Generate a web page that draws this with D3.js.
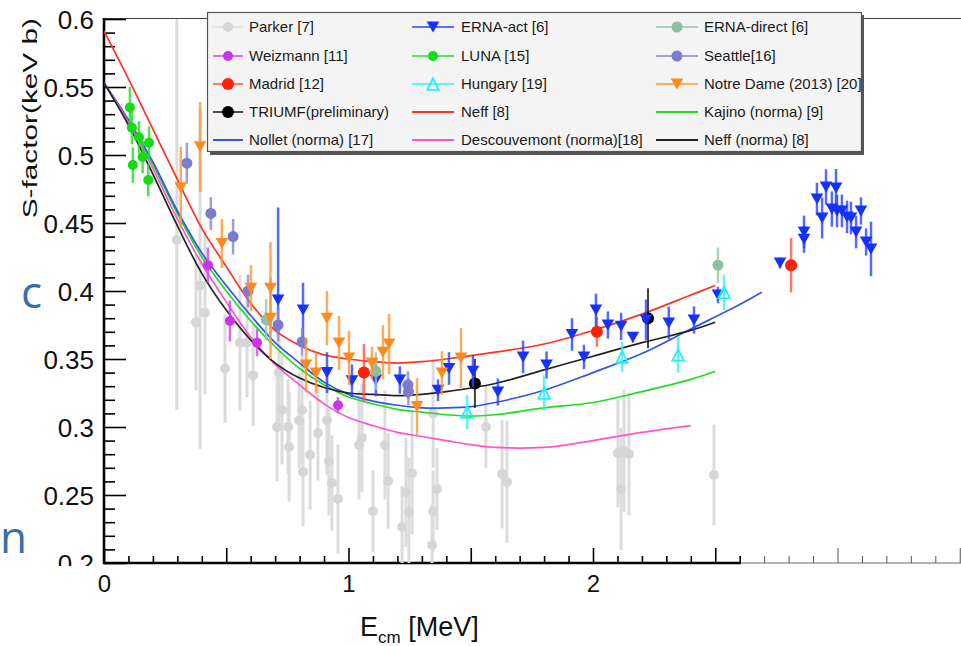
<!DOCTYPE html>
<html>
<head>
<meta charset="utf-8">
<script src="https://cdn.jsdelivr.net/npm/d3@7"></script>
<style>
  body { margin: 0; background: #fff; }
  svg { display: block; font-family: "Liberation Sans", Arial, Helvetica, sans-serif; }
</style>
</head>
<body>
<svg id="chart" width="961" height="646"></svg>
<script>
// ---- Axis tick labels ----
const yTickLabels = ["0.2", "0.25", "0.3", "0.35", "0.4", "0.45", "0.5", "0.55", "0.6"];
const xTickLabels = ["0", "1", "2"];

// ---- Measurements: [E (MeV), S (keV b), error low, (optional) error high] ----
const parker = [
  [0.298, 0.4375, 0.125, 0.17], [0.393, 0.404, 0.12, 0.13], [0.413, 0.384, 0.06], [0.376, 0.377, 0.05],
  [0.495, 0.343, 0.04], [0.556, 0.362, 0.05], [0.585, 0.362, 0.04], [0.61, 0.338, 0.037],
  [0.716, 0.340, 0.04], [0.728, 0.3125, 0.04], [0.708, 0.300, 0.04], [0.753, 0.300, 0.035],
  [0.757, 0.2853, 0.04], [0.81, 0.3125, 0.04], [0.798, 0.305, 0.035], [0.814, 0.267, 0.04],
  [0.843, 0.2794, 0.04], [0.875, 0.2956, 0.035], [0.912, 0.305, 0.04], [0.92, 0.275, 0.04],
  [0.932, 0.2588, 0.035], [0.957, 0.247, 0.04], [1.055, 0.292, 0.04], [1.043, 0.2868, 0.04],
  [1.149, 0.2868, 0.04], [1.162, 0.2603, 0.035], [1.10, 0.238, 0.03], [1.26, 0.266, 0.045],
  [1.235, 0.252, 0.04], [1.247, 0.2375, 0.04], [1.219, 0.2265, 0.03], [1.362, 0.2544, 0.03],
  [1.346, 0.238, 0.03], [1.342, 0.2132, 0.03], [1.346, 0.31, 0.04], [1.562, 0.300, 0.03],
  [1.628, 0.2654, 0.04], [1.648, 0.2596, 0.045], [2.102, 0.2809, 0.04], [2.127, 0.2824, 0.045],
  [2.147, 0.2801, 0.045], [2.115, 0.2544, 0.045], [2.495, 0.2647, 0.037]
];
const ernaAct = [
  [0.712, 0.3934, 0.025, 0.068], [0.814, 0.386, 0.02], [0.912, 0.340, 0.015], [1.014, 0.334, 0.012],
  [1.112, 0.3346, 0.012], [1.21, 0.3346, 0.01], [1.366, 0.327, 0.008], [1.411, 0.343, 0.012],
  [1.509, 0.341, 0.012], [1.611, 0.3257, 0.01], [1.714, 0.3515, 0.012], [1.81, 0.3456, 0.01],
  [1.914, 0.368, 0.012], [1.963, 0.3515, 0.009], [2.012, 0.386, 0.012], [2.061, 0.375, 0.01],
  [2.115, 0.374, 0.01], [2.163, 0.366, 0.004], [2.217, 0.3787, 0.015], [2.31, 0.3765, 0.012],
  [2.413, 0.3787, 0.01], [2.511, 0.397, 0.006], [2.765, 0.4206, 0.004], [2.863, 0.4434, 0.012],
  [2.863, 0.438, 0.01], [2.916, 0.4676, 0.012], [2.937, 0.4537, 0.015], [2.953, 0.4765, 0.013],
  [2.977, 0.4603, 0.013], [2.994, 0.4757, 0.014], [2.998, 0.4588, 0.012], [3.018, 0.4588, 0.012],
  [3.039, 0.4544, 0.012], [3.055, 0.4537, 0.012], [3.076, 0.4434, 0.012], [3.096, 0.4588, 0.01],
  [3.117, 0.436, 0.01], [3.137, 0.4309, 0.02]
];
const ernaDirect = [[0.663, 0.379, 0.015], [1.112, 0.341, 0.014], [2.511, 0.419, 0.013]];
const weizmann = [[0.425, 0.419, 0.013], [0.515, 0.378, 0.015], [0.626, 0.362, 0.01], [0.957, 0.316, 0.006]];
const luna = [
  [0.106, 0.535, 0.015], [0.114, 0.520, 0.012], [0.143, 0.513, 0.012], [0.184, 0.509, 0.012],
  [0.158, 0.4985, 0.012], [0.118, 0.4926, 0.013], [0.181, 0.4816, 0.012]
];
const seattle = [
  [0.339, 0.494, 0.015], [0.437, 0.457, 0.012], [0.528, 0.440, 0.013], [0.589, 0.400, 0.012],
  [0.712, 0.375, 0.012], [0.81, 0.3625, 0.01], [1.243, 0.331, 0.01], [1.245, 0.326, 0.01]
];
const madrid = [[1.063, 0.340, 0.021], [2.016, 0.370, 0.011], [2.81, 0.419, 0.02]];
const hungary = [[1.485, 0.311, 0.0125], [1.80, 0.325, 0.013], [2.119, 0.3515, 0.011], [2.348, 0.353, 0.013], [2.536, 0.399, 0.013]];
const notreDame = [
  [0.314, 0.476, 0.03], [0.393, 0.506, 0.033], [0.482, 0.435, 0.018], [0.601, 0.402, 0.017],
  [0.681, 0.402, 0.034], [0.681, 0.380, 0.03], [0.826, 0.3456, 0.02], [0.867, 0.3397, 0.015],
  [0.912, 0.380, 0.02], [0.961, 0.3618, 0.02], [1.002, 0.3507, 0.02], [1.096, 0.347, 0.012],
  [1.141, 0.355, 0.02], [1.166, 0.361, 0.022], [1.28, 0.315, 0.021], [1.382, 0.3397, 0.016],
  [1.46, 0.3507, 0.022]
];
const triumf = [[1.517, 0.332, 0.018], [2.225, 0.380, 0.022]];

// ---- Theory curves: [E (MeV), S (keV b)] ----
const neffCurve = [
  [0, 0.591], [0.1, 0.556], [0.2, 0.519], [0.3, 0.482], [0.4, 0.446], [0.5, 0.418], [0.6, 0.391],
  [0.7, 0.371], [0.8, 0.360], [0.9, 0.353], [1.0, 0.350], [1.1, 0.348], [1.2, 0.347], [1.3, 0.348],
  [1.4, 0.350], [1.6, 0.355], [1.8, 0.361], [2.0, 0.371], [2.2, 0.383], [2.4, 0.397], [2.5, 0.404]
];
const kajinoCurve = [
  [0, 0.553], [0.1, 0.525], [0.2, 0.493], [0.3, 0.457], [0.4, 0.425], [0.5, 0.400], [0.6, 0.378],
  [0.7, 0.359], [0.8, 0.343], [0.9, 0.331], [1.0, 0.322], [1.1, 0.317], [1.2, 0.313], [1.3, 0.311],
  [1.4, 0.309], [1.5, 0.308], [1.6, 0.309], [1.8, 0.314], [2.0, 0.318], [2.2, 0.326], [2.4, 0.335], [2.5, 0.341]
];
const nolletCurve = [
  [0, 0.553], [0.1, 0.526], [0.2, 0.495], [0.3, 0.459], [0.4, 0.428], [0.5, 0.404], [0.6, 0.382],
  [0.7, 0.362], [0.8, 0.347], [0.9, 0.333], [1.0, 0.324], [1.1, 0.319], [1.2, 0.316], [1.3, 0.314],
  [1.4, 0.314], [1.5, 0.315], [1.6, 0.318], [1.8, 0.327], [2.0, 0.340], [2.2, 0.354], [2.4, 0.372],
  [2.6, 0.390], [2.69, 0.399]
];
const descouvemontCurve = [
  [0, 0.553], [0.1, 0.524], [0.2, 0.490], [0.3, 0.453], [0.4, 0.420], [0.5, 0.392], [0.6, 0.366],
  [0.7, 0.346], [0.8, 0.331], [0.9, 0.317], [1.0, 0.307], [1.1, 0.301], [1.2, 0.296], [1.3, 0.293],
  [1.4, 0.290], [1.5, 0.287], [1.6, 0.285], [1.8, 0.285], [1.9, 0.287], [2.0, 0.290], [2.2, 0.296], [2.4, 0.301]
];
const neffNormaCurve = [
  [0, 0.553], [0.1, 0.522], [0.2, 0.486], [0.3, 0.448], [0.4, 0.413], [0.5, 0.386], [0.6, 0.364],
  [0.7, 0.347], [0.8, 0.336], [0.9, 0.329], [1.0, 0.325], [1.1, 0.324], [1.2, 0.323], [1.3, 0.324],
  [1.4, 0.326], [1.6, 0.332], [1.8, 0.342], [2.0, 0.352], [2.2, 0.362], [2.4, 0.371], [2.5, 0.377]
];

// ---- Series styling ----
const pointSeries = [
  { name: "Parker [7]",              data: parker,     color: "#d6d6d6", bar: "#dcdcdc", marker: "circle", r: 5,   bw: 3 },
  { name: "Weizmann [11]",           data: weizmann,   color: "#cc33ee", bar: "#cc44ee", marker: "circle", r: 5,   bw: 2.5 },
  { name: "Madrid [12]",             data: madrid,     color: "#ff2200", bar: "#ff5544", marker: "circle", r: 6,   bw: 2.5 },
  { name: "TRIUMF(preliminary)",     data: triumf,     color: "#000000", bar: "#111111", marker: "circle", r: 6,   bw: 2 },
  { name: "ERNA-act [6]",            data: ernaAct,    color: "#1530ff", bar: "#2a44ff", marker: "down",   r: 5.5, bw: 2.5 },
  { name: "LUNA [15]",               data: luna,       color: "#11dd11", bar: "#22dd22", marker: "circle", r: 5,   bw: 2.5 },
  { name: "Hungary [19]",            data: hungary,    color: "#22f0ff", bar: "#33f0ff", marker: "upOpen", r: 5.5, bw: 2.5 },
  { name: "ERNA-direct [6]",         data: ernaDirect, color: "#8fbf9f", bar: "#99c6aa", marker: "circle", r: 5.5, bw: 2.5 },
  { name: "Seattle[16]",             data: seattle,    color: "#7b7bcf", bar: "#8585d4", marker: "circle", r: 5.5, bw: 2.5 },
  { name: "Notre Dame (2013) [20]",  data: notreDame,  color: "#ff8a1e", bar: "#ff9633", marker: "down",   r: 5.5, bw: 2.5 }
];
const curveSeries = [
  { name: "Neff [8]",                  data: neffCurve,         color: "#ff3322" },
  { name: "Kajino (norma) [9]",        data: kajinoCurve,       color: "#22dd22" },
  { name: "Nollet (norma) [17]",       data: nolletCurve,       color: "#3355ee" },
  { name: "Descouvemont (norma)[18]",  data: descouvemontCurve, color: "#ff55cc" },
  { name: "Neff (norma) [8]",          data: neffNormaCurve,    color: "#222222" }
];

// ---- Scales ----
const svg = d3.select("#chart");
const x = d3.scaleLinear().domain([0, 3.5]).range([104, 104 + 3.5 * 244.5]);
const y = d3.scaleLinear().domain([0.2, 0.6]).range([563, 19]);

const defs = svg.append("defs");
defs.append("clipPath").attr("id", "slideClip").append("rect").attr("x", 0).attr("y", 0).attr("width", 41).attr("height", 646);
defs.append("clipPath").attr("id", "plotClip").append("rect").attr("x", 104).attr("y", 19).attr("width", 857).attr("height", 544);
// local to the y-axis group (which is shifted right by 104)
defs.append("clipPath").attr("id", "labelClip").append("rect").attr("x", -110).attr("y", 0).attr("width", 140).attr("height", 566);

// Slide lettering peeking out on the left
const slide = svg.append("g").attr("clip-path", "url(#slideClip)")
  .attr("fill", "#3b6ea8").style("font-family", "'Open Sans', 'Noto Sans', sans-serif");
slide.append("text").attr("x", 21).attr("y", 308).attr("font-size", 44).text("c");
slide.append("text").attr("x", 0).attr("y", 553).attr("font-size", 44).text("n");

// ---- Frame ----
svg.append("line").attr("x1", 104).attr("x2", 961).attr("y1", 18.5).attr("y2", 18.5)
  .attr("stroke", "#444").attr("stroke-width", 1.2);

// ---- Y axis (ticks pointing into the plot) ----
const yMajor = yTickLabels.map(Number);
const yMinor = d3.range(20, 61).map(v => v / 100).filter(v => !yMajor.some(m => Math.abs(m - v) < 1e-9));
const yAxisG = svg.append("g").attr("transform", "translate(104,0)");
yAxisG.append("g").call(d3.axisLeft(y).tickValues(yMinor).tickSize(-11).tickFormat(""))
  .call(g => g.select(".domain").remove());
const yMajG = yAxisG.append("g").attr("clip-path", "url(#labelClip)");
yMajG.call(d3.axisLeft(y).tickValues(yMajor).tickSize(-22).tickPadding(10).tickFormat((d, i) => yTickLabels[i]))
  .call(g => g.select(".domain").remove());
yAxisG.selectAll("line").attr("stroke", "#000").attr("stroke-width", 1.6);
yMajG.selectAll("text").attr("font-size", 26).attr("fill", "#111").attr("dy", "0.36em")
  .attr("font-family", "'Liberation Sans', Arial, sans-serif");
yAxisG.append("line").attr("x1", 0).attr("x2", 0).attr("y1", 18).attr("y2", 564)
  .attr("stroke", "#000").attr("stroke-width", 2.6);

// ---- X axis ----
const xMid = d3.range(0, 36, 5).map(v => v / 10);
const xMinor = d3.range(0, 36).map(v => v / 10).filter(v => !xMid.some(m => Math.abs(m - v) < 1e-9));
const xAxisG = svg.append("g").attr("transform", "translate(0,563)");
xAxisG.append("g").call(d3.axisBottom(x).tickValues(xMinor).tickSize(-7).tickFormat(""));
xAxisG.append("g").call(d3.axisBottom(x).tickValues(xMid).tickSize(-15).tickFormat(""));
xAxisG.selectAll(".domain").remove();
xAxisG.selectAll(".tick").each(function(d) {
  const strong = d <= 2.6;
  d3.select(this).select("line").attr("stroke", strong ? "#000" : "#555").attr("stroke-width", strong ? 1.6 : 1);
});
xAxisG.append("g").call(d3.axisBottom(x).tickValues(xTickLabels.map(Number)).tickSize(0).tickPadding(12).tickFormat((d, i) => xTickLabels[i]))
  .call(g => g.select(".domain").remove())
  .selectAll("text").attr("font-size", 24).attr("fill", "#111")
  .attr("font-family", "'Liberation Sans', Arial, sans-serif");
xAxisG.append("line").attr("x1", 103).attr("x2", x(2.605)).attr("y1", 0).attr("y2", 0)
  .attr("stroke", "#000").attr("stroke-width", 2.6);
xAxisG.append("line").attr("x1", x(2.605)).attr("x2", 961).attr("y1", 0).attr("y2", 0)
  .attr("stroke", "#666").attr("stroke-width", 1);

// ---- Axis titles ----
svg.append("text").attr("transform", "translate(37,18) scale(1,1.49) rotate(-90)").attr("text-anchor", "end")
  .attr("font-size", 20).attr("fill", "#111").text("S-factor(keV b)");
const xt = svg.append("text").attr("x", 360).attr("y", 636).attr("font-size", 27).attr("fill", "#111");
xt.append("tspan").text("E");
xt.append("tspan").attr("font-size", 17).attr("dy", 7).text("cm");
xt.append("tspan").attr("dy", -7).text(" [MeV]");

// ---- Plot content ----
const plot = svg.append("g").attr("clip-path", "url(#plotClip)");

function drawMarker(g, s, cx, cy) {
  if (s.marker === "circle") {
    g.append("circle").attr("cx", cx).attr("cy", cy).attr("r", s.r).attr("fill", s.color);
  } else if (s.marker === "down") {
    const w = s.r * 1.15, h = s.r * 1.0;
    g.append("path").attr("d", `M${cx - w},${cy - h} L${cx + w},${cy - h} L${cx},${cy + h} Z`).attr("fill", s.color);
  } else if (s.marker === "upOpen") {
    const w = s.r * 1.05, h = s.r * 1.05;
    g.append("path").attr("d", `M${cx - w},${cy + h} L${cx + w},${cy + h} L${cx},${cy - h} Z`)
      .attr("fill", "none").attr("stroke", s.color).attr("stroke-width", 1.8);
  }
}

function drawSeries(s) {
  const g = plot.append("g");
  g.selectAll("line.err").data(s.data).join("line").attr("class", "err")
    .attr("x1", d => x(d[0])).attr("x2", d => x(d[0]))
    .attr("y1", d => y(d[1] - d[2])).attr("y2", d => y(d[1] + (d.length > 3 ? d[3] : d[2])))
    .attr("stroke", s.bar).attr("stroke-width", s.bw).attr("stroke-opacity", s.data === parker ? 1 : 0.8);
  s.data.forEach(d => drawMarker(g, s, x(d[0]), y(d[1])));
}

const lineGen = d3.line().x(d => x(d[0])).y(d => y(d[1])).curve(d3.curveCatmullRom.alpha(0.5));

drawSeries(pointSeries[0]);
curveSeries.forEach(c => {
  plot.append("path").datum(c.data).attr("d", lineGen).attr("fill", "none")
    .attr("stroke", c.color).attr("stroke-width", 1.7);
});
pointSeries.slice(1).forEach(drawSeries);

// ---- Legend ----
const legendItems = [
  pointSeries[0], pointSeries[4], pointSeries[7],
  pointSeries[1], pointSeries[5], pointSeries[8],
  pointSeries[2], pointSeries[6], pointSeries[9],
  pointSeries[3], curveSeries[0], curveSeries[1],
  curveSeries[2], curveSeries[3], curveSeries[4]
];
const lg = svg.append("g");
lg.append("rect").attr("x", 210).attr("y", 15).attr("width", 654).attr("height", 140).attr("fill", "#555");
lg.append("rect").attr("x", 207.5).attr("y", 12.5).attr("width", 654).attr("height", 139)
  .attr("fill", "#f4f4f4").attr("stroke", "#555").attr("stroke-width", 1.2);
const colX = [213, 412, 656];
const colText = [249, 461, 704];
const rowY = [27, 56, 84, 112, 140];
legendItems.forEach((it, i) => {
  const c = i % 3, r = Math.floor(i / 3);
  const cy = rowY[r];
  const lineColor = it.bar || it.color;
  lg.append("line").attr("x1", colX[c]).attr("x2", colX[c] + (c === 0 ? 30 : 42)).attr("y1", cy).attr("y2", cy)
    .attr("stroke", lineColor).attr("stroke-width", 2).attr("stroke-opacity", it.marker ? 0.75 : 1);
  if (it.marker) drawMarker(lg, it, colX[c] + (c === 0 ? 15 : 21), cy);
  lg.append("text").attr("x", colText[c]).attr("y", cy + 5).attr("font-size", 15).attr("fill", "#1a1a1a").text(it.name);
});
</script>
</body>
</html>
